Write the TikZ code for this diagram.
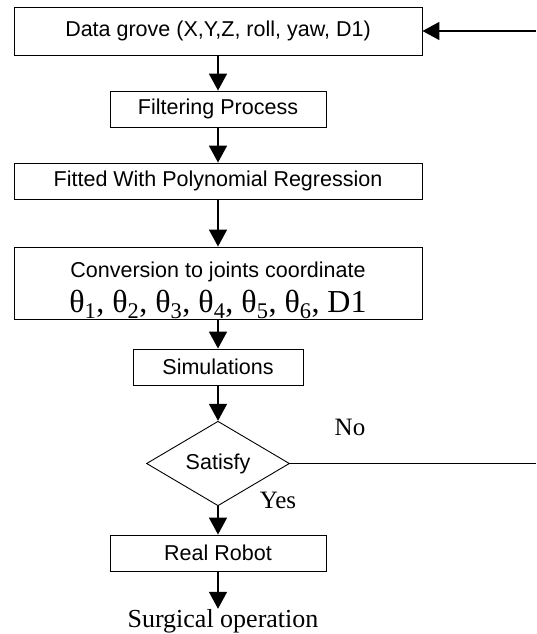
\documentclass[tikz,border=0pt]{standalone}
\usepackage{fontspec}
\setmainfont{Liberation Serif}
\setsansfont{Liberation Sans}
\usetikzlibrary{shapes.geometric,arrows.meta}

\begin{document}
\begin{tikzpicture}[x=1pt,y=-1pt,
    box/.style={draw,line width=0.9pt,minimum width=408pt,minimum height=36pt,inner sep=0pt,font=\fontsize{21.5}{24}\sffamily},
    smallbox/.style={box,minimum width=216pt},
    decide/.style={draw,diamond,line width=0.9pt,minimum width=143pt,minimum height=71pt,inner sep=0pt,font=\fontsize{21.5}{24}\sffamily},
    lbl/.style={inner sep=0pt,anchor=base,font=\fontsize{25}{28}\rmfamily},
    arr/.style={line width=1.8pt,-{Triangle[length=17pt,width=18pt]}}]
  \useasboundingbox (0,0) rectangle (536,634);
  % boxes of the flow
  \node[box,minimum height=48pt] (data) at (218,31) {Data grove (X,Y,Z, roll, yaw, D1)};
  \node[smallbox] (filter) at (218,109) {Filtering Process};
  \node[box] (fit) at (218,181) {Fitted With Polynomial Regression};
  \node[box,minimum height=72pt] (conv) at (218,283) {};
  \node[lbl,font=\fontsize{21.5}{24}\sffamily] (convtop) at (218,277) {Conversion to joints coordinate};
  \node[lbl,font=\fontsize{32}{36}\rmfamily] (convjoint) at (218,312)
    {θ\textsubscript{1}, θ\textsubscript{2}, θ\textsubscript{3}, θ\textsubscript{4}, θ\textsubscript{5}, θ\textsubscript{6}, D1};
  \node[box,minimum width=170pt] (sim) at (218,367) {Simulations};
  \node[decide] (sat) at (218,463.5) {Satisfy};
  \node[smallbox] (robot) at (218,553) {Real Robot};
  \node[lbl,font=\fontsize{26}{30}\rmfamily] (surg) at (223,627) {Surgical operation};
  \node[lbl] (no) at (350,435) {No};
  \node[lbl] (yes) at (278,508) {Yes};
  % connectors
  \draw[arr] (data) -- (filter);
  \draw[arr] (filter) -- (fit);
  \draw[arr] (fit) -- (conv);
  \draw[arr] (conv) -- (sim);
  \draw[arr] (sim) -- (sat);
  \draw[arr] (sat) -- (robot);
  \draw[arr] (robot.south) -- (robot.south |- surg.north);
  % loop back on No
  \coordinate (noend) at (536,463.5);
  \coordinate (backin) at (536,31);
  \draw[line width=1.8pt] (sat.east) -- (noend);
  \draw[arr] (backin) -- (data.east);
\end{tikzpicture}
\end{document}
